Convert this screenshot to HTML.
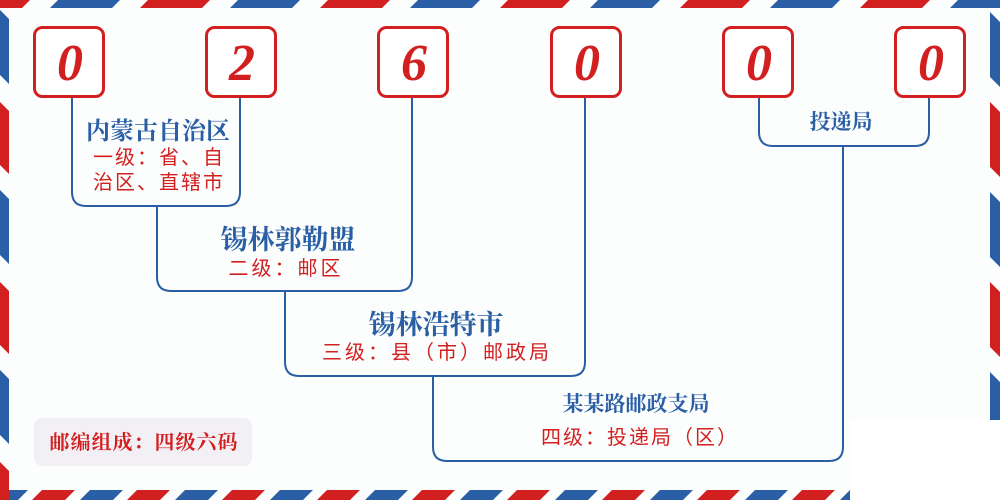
<!DOCTYPE html>
<html><head><meta charset="utf-8"><style>
html,body{margin:0;padding:0;background:#fff;}
svg{display:block;}
.t{font-family:"Liberation Serif","Noto Serif CJK SC",serif;font-weight:700;fill:#2a5fa5;text-anchor:middle;}
.r{font-family:"Liberation Sans","Noto Sans CJK SC",sans-serif;fill:#d21f1f;text-anchor:middle;letter-spacing:2px;}
.d{font-family:"Liberation Serif",serif;font-weight:700;font-style:italic;fill:#d21f1f;text-anchor:middle;font-size:52px;}
</style></head><body>
<svg width="1000" height="500" viewBox="0 0 1000 500" xmlns="http://www.w3.org/2000/svg">
<defs>
<pattern id="pt" patternUnits="userSpaceOnUse" width="180" height="20" x="-32" patternTransform="skewX(-45)">
<rect x="0" y="0" width="62" height="20" fill="#d21f1f"/><rect x="90" y="0" width="62" height="20" fill="#2a5fa5"/>
</pattern>
<pattern id="pb" patternUnits="userSpaceOnUse" width="95" height="20" x="10" y="490" patternTransform="skewX(-45)">
<rect x="0" y="0" width="33" height="20" fill="#2a5fa5"/><rect x="47" y="0" width="33" height="20" fill="#d21f1f"/>
</pattern>
<pattern id="pl" patternUnits="userSpaceOnUse" width="20" height="180" y="10" patternTransform="skewY(45)">
<rect x="0" y="0" width="20" height="65" fill="#2a5fa5"/><rect x="0" y="92" width="20" height="63" fill="#d21f1f"/>
</pattern>
<pattern id="pr" patternUnits="userSpaceOnUse" width="20" height="180" x="990" y="12" patternTransform="skewY(45)">
<rect x="0" y="0" width="20" height="65" fill="#d21f1f"/><rect x="0" y="90" width="20" height="65" fill="#2a5fa5"/>
</pattern>
</defs>
<rect width="1000" height="500" fill="#fcfefd"/>
<rect x="850" y="420" width="150" height="80" fill="#fff"/>
<rect x="0" y="0" width="1000" height="8" fill="url(#pt)"/>
<rect x="0" y="490" width="850" height="10" fill="url(#pb)"/>
<rect x="0" y="0" width="9" height="500" fill="url(#pl)"/>
<rect x="990" y="0" width="10" height="420" fill="url(#pr)"/>

<g fill="none" stroke="#2a5fa5" stroke-width="2">
<path d="M72 97 V192 Q72 206 86 206 H226 Q240 206 240 192 V97"/>
<path d="M157 206 V277 Q157 291 171 291 H398 Q412 291 412 277 V97"/>
<path d="M285 291 V362 Q285 376 299 376 H571 Q585 376 585 362 V97"/>
<path d="M433 376 V447 Q433 461 447 461 H829 Q843 461 843 447 V146"/>
<path d="M759 97 V132 Q759 146 773 146 H915 Q929 146 929 132 V97"/>
</g>

<g fill="#fff" stroke="#d21f1f" stroke-width="3">
<rect x="34.5" y="27.5" width="69" height="69" rx="8"/>
<rect x="206.5" y="27.5" width="69" height="69" rx="8"/>
<rect x="378.5" y="27.5" width="69" height="69" rx="8"/>
<rect x="551.5" y="27.5" width="69" height="69" rx="8"/>
<rect x="723.5" y="27.5" width="69" height="69" rx="8"/>
<rect x="895.5" y="27.5" width="69" height="69" rx="8"/>
</g>
<text class="d" x="70" y="80">0</text>
<text class="d" x="242" y="80">2</text>
<text class="d" x="414" y="80">6</text>
<text class="d" x="587" y="80">0</text>
<text class="d" x="759" y="80">0</text>
<text class="d" x="931" y="80">0</text>

<text class="t" x="158" y="139" font-size="24">内蒙古自治区</text>
<text class="r" x="159" y="164" font-size="20">一级：省、自</text>
<text class="r" x="159" y="189" font-size="20">治区、直辖市</text>

<text class="t" x="288" y="249" font-size="27">锡林郭勒盟</text>
<text class="r" x="286" y="275" font-size="20" style="letter-spacing:3px">二级：邮区</text>

<text class="t" x="436" y="334" font-size="27">锡林浩特市</text>
<text class="r" x="437" y="359" font-size="20" style="letter-spacing:3px">三级：县（市）邮政局</text>

<text class="t" x="636" y="411" font-size="21">某某路邮政支局</text>
<text class="r" x="640" y="444" font-size="20">四级：投递局（区）</text>

<text class="t" x="841" y="129" font-size="21">投递局</text>

<rect x="34" y="418" width="218" height="48" rx="8" fill="#f3f0f5"/>
<text x="144" y="449" font-size="20" font-weight="700" fill="#d21f1f" text-anchor="middle" letter-spacing="1" font-family="'Liberation Serif','Noto Serif CJK SC',serif">邮编组成：四级六码</text>
</svg>
</body></html>
